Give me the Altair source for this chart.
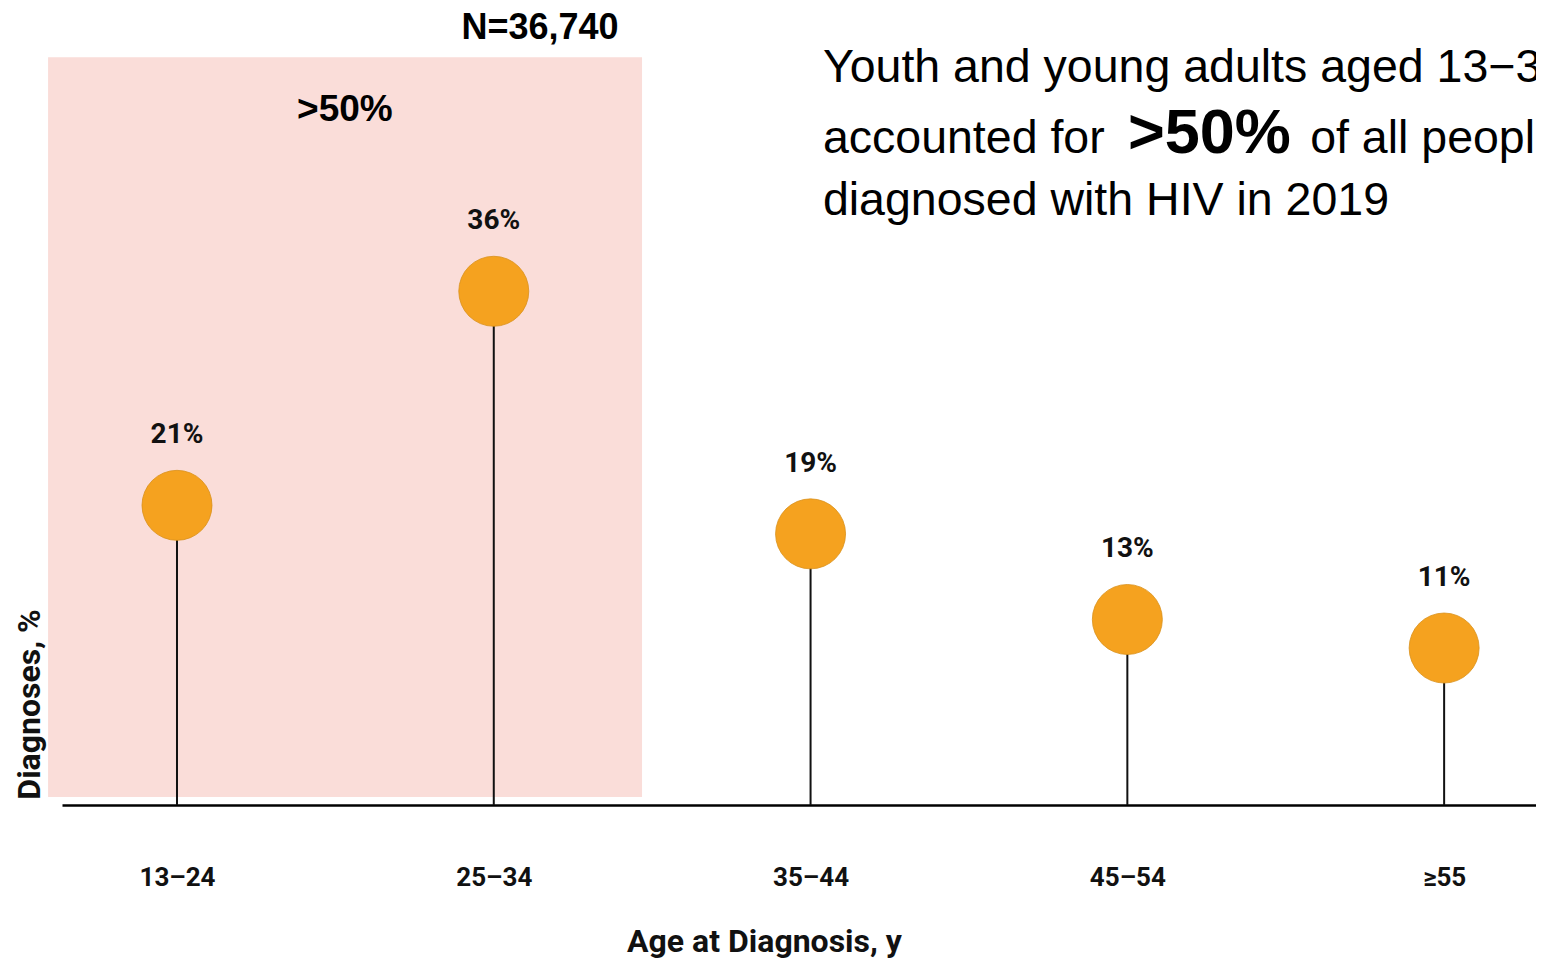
import json
import altair as alt
import pandas as pd

# ---- data ----
categories = ["13–24", "25–34", "35–44", "45–54", "≥55"]
values = [21, 36, 19, 13, 11]
positions = [0, 1, 2, 3, 4]
value_labels = ["21%", "36%", "19%", "13%", "11%"]

total_label = "N=36,740"
highlight_label = ">50%"
para_line1 = "Youth and young adults aged 13−34"
para_line2a = "accounted for"
para_line2b = ">50%"
para_line2c = "of all people"
para_line3 = "diagnosed with HIV in 2019"

df = pd.DataFrame({"pos": positions, "cat": categories, "val": values, "label": value_labels})

X_DOMAIN = [-0.363, 4.290]
Y_DOMAIN = [0, 55.85]

DIN = "Roboto, DejaVu Sans, sans-serif"
ARIAL = "Liberation Sans, Arial, sans-serif"

label_expr = json.dumps(categories) + "[datum.value]"

xs = alt.Scale(domain=X_DOMAIN, nice=False, zero=False)
ys = alt.Scale(domain=Y_DOMAIN, nice=False, zero=False)

base = alt.Chart(df)

# highlight rectangle (annotation, in data units)
rect_df = pd.DataFrame({"x": [-0.407], "x2": [1.468], "y": [0.56], "y2": [52.4]})
rect = alt.Chart(rect_df).mark_rect(color="#FADDD9").encode(
    x=alt.X("x:Q", scale=xs,
            axis=alt.Axis(values=positions, labelExpr=label_expr,
                          title="Age at Diagnosis, y", grid=False, ticks=False,
                          domainColor="black", domainWidth=2.5,
                          labelFont=DIN, labelFontSize=26, labelFontWeight="bold",
                          labelColor="#111", labelBaseline="middle", labelPadding=72,
                          labelAlign="center",
                          titleFont=DIN, titleFontSize=32, titleFontWeight="bold",
                          titleColor="#111", titleX=702, titleY=146,
                          titleAlign="center", titleBaseline="alphabetic")),
    x2="x2:Q",
    y=alt.Y("y:Q", scale=ys,
            axis=alt.Axis(title="Diagnoses, %", labels=False, ticks=False,
                          domain=False, grid=False, titleAngle=270,
                          titleX=-23, titleY=696, titleAlign="center",
                          titleBaseline="alphabetic", titleFont=DIN,
                          titleFontSize=32, titleFontWeight="bold",
                          titleColor="#111")),
    y2="y2:Q",
)

stems = base.mark_rule(color="#111", strokeWidth=2).encode(
    x=alt.X("pos:Q", scale=xs), y=alt.Y("val:Q", scale=ys), y2=alt.datum(0)
)

dots = base.mark_circle(size=4900, color="#F5A21F", opacity=1,
                        stroke="#D9901A", strokeWidth=0.8).encode(
    x=alt.X("pos:Q", scale=xs), y=alt.Y("val:Q", scale=ys)
)

pct = base.mark_text(font=DIN, fontSize=28, fontWeight="bold", color="#111",
                     dy=-70, baseline="middle", align="center").encode(
    x=alt.X("pos:Q", scale=xs), y=alt.Y("val:Q", scale=ys), text="label:N"
)


def txt(t, xv, yv, size, weight="normal", align="left", font=ARIAL):
    d = pd.DataFrame({"x": [xv], "y": [yv], "t": [t]})
    return alt.Chart(d).mark_text(font=font, fontSize=size, fontWeight=weight,
                                  color="#000", align=align,
                                  baseline="alphabetic").encode(
        x=alt.X("x:Q", scale=xs), y=alt.Y("y:Q", scale=ys), text="t:N"
    )


texts = [
    txt(total_label, 1.146, 53.68, 36, "bold", "center"),
    txt(highlight_label, 0.530, 47.93, 37, "bold", "center"),
    txt(para_line1, 2.039, 50.67, 46.5),
    txt(para_line2a, 2.039, 45.69, 46.5),
    txt(para_line2b, 3.002, 45.69, 63, "bold"),
    txt(para_line2c, 3.577, 45.69, 46.5),
    txt(para_line3, 2.039, 41.35, 46.5),
]

chart = alt.layer(rect, stems, dots, pct, *texts).properties(
    width=1474, height=797,
    autosize=alt.AutoSizeParams(type="none"),
    padding={"left": 54, "top": 0, "right": 0, "bottom": 153},
    background="white",
).configure_view(stroke=None)

chart.save("out.html", embed_options={"renderer": "svg", "actions": False})
